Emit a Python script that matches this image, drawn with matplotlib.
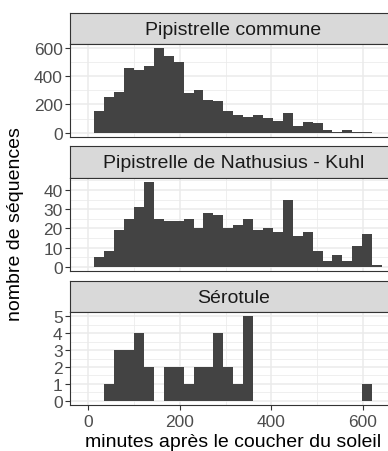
import numpy as np
import matplotlib
matplotlib.use("Agg")
import matplotlib.pyplot as plt

plt.rcParams['font.family'] = ['Liberation Sans', 'DejaVu Sans']

# histogram bins (minutes after sunset)
first_edge = -8.5
binwidth = 21.67
n_bins = 30

species = ["Pipistrelle commune", "Pipistrelle de Nathusius - Kuhl", "Sérotule"]

# counts per bin
counts_commune = [0, 156, 253, 291, 460, 442, 470, 598, 542, 498,
                  281, 300, 233, 223, 151, 128, 109, 128, 105, 86,
                  140, 47, 74, 70, 18, 3, 22, 3, 2, 1]
counts_nathusius = [0, 5, 8, 19, 25, 31, 44, 25, 24, 24,
                    25, 20, 28, 27, 20, 22, 25, 19, 20, 18,
                    35, 16, 18, 8, 3, 6, 3, 11, 17, 1]
counts_serotule = [0, 0, 1, 3, 3, 4, 2, 0, 2, 2,
                   1, 2, 2, 4, 2, 1, 5, 0, 0, 0,
                   0, 0, 0, 0, 0, 0, 0, 0, 1, 0]

all_counts = [counts_commune, counts_nathusius, counts_serotule]
y_ticks = [[0, 200, 400, 600], [0, 10, 20, 30, 40], [0, 1, 2, 3, 4, 5]]
x_ticks = [0, 200, 400, 600]

edges = first_edge + binwidth * np.arange(n_bins + 1)
centres = (edges[:-1] + edges[1:]) / 2
x_lo = edges[0] - 0.05 * (edges[-1] - edges[0])
x_hi = edges[-1] + 0.05 * (edges[-1] - edges[0])

W, H = 388, 452
fig = plt.figure(figsize=(W / 100, H / 100), dpi=100)

# panel layout in pixels (top of strip, top of panel, bottom of panel)
rows = [(14, 45, 138), (147, 179, 272), (282, 313, 406)]
left_px, right_px = 69.5, 397

grid_col = '#EBEBEB'
border_col = '#333333'
tick_col = '#4D4D4D'

for i in range(3):
    s_top, p_top, p_bot = rows[i]
    # strip
    sax = fig.add_axes([left_px / W, 1 - p_top / H, (right_px - left_px) / W, (p_top - s_top) / H])
    sax.set_facecolor('#D9D9D9')
    sax.set_xticks([])
    sax.set_yticks([])
    for sp in sax.spines.values():
        sp.set_color(border_col)
        sp.set_linewidth(0.8)
    sax.text(0.5, 0.47, species[i], ha='center', va='center', fontsize=14,
             color='#1A1A1A', transform=sax.transAxes)

    # panel
    ax = fig.add_axes([left_px / W, 1 - p_bot / H, (right_px - left_px) / W, (p_bot - p_top) / H])
    ax.bar(centres, all_counts[i], width=binwidth, color='#434343', zorder=3)
    ymax = max(all_counts[i])
    ax.set_ylim(-0.05 * ymax, ymax * 1.05)
    ax.set_xlim(x_lo, x_hi)

    # gridlines
    ax.set_xticks(x_ticks)
    ax.set_xticks([100, 300, 500], minor=True)
    ax.set_yticks(y_ticks[i])
    yt = y_ticks[i]
    step = yt[1] - yt[0]
    ax.set_yticks([t + step / 2 for t in yt if t + step / 2 < ymax * 1.05], minor=True)
    ax.grid(which='major', color=grid_col, linewidth=1.1, zorder=0)
    ax.grid(which='minor', color=grid_col, linewidth=0.55, zorder=0)
    ax.set_axisbelow(True)

    ax.tick_params(which='minor', length=0)
    ax.tick_params(which='major', length=3.8, width=0.8, color='#333333',
                   labelsize=12.5, labelcolor=tick_col)
    ax.tick_params(axis='y', pad=1.2)
    ax.tick_params(axis='x', pad=2.5)
    if i < 2:
        ax.tick_params(axis='x', which='major', length=0, labelbottom=False)
    for sp in ax.spines.values():
        sp.set_color(border_col)
        sp.set_linewidth(0.8)

fig.text(233 / W, 1 - 447 / H, "minutes après le coucher du soleil", ha='center', va='baseline',
         fontsize=14)
fig.text(16 / W, 1 - 224 / H, "nombre de séquences", ha='center', va='center',
         rotation=90, fontsize=14)

plt.savefig("out.png", dpi=100)
